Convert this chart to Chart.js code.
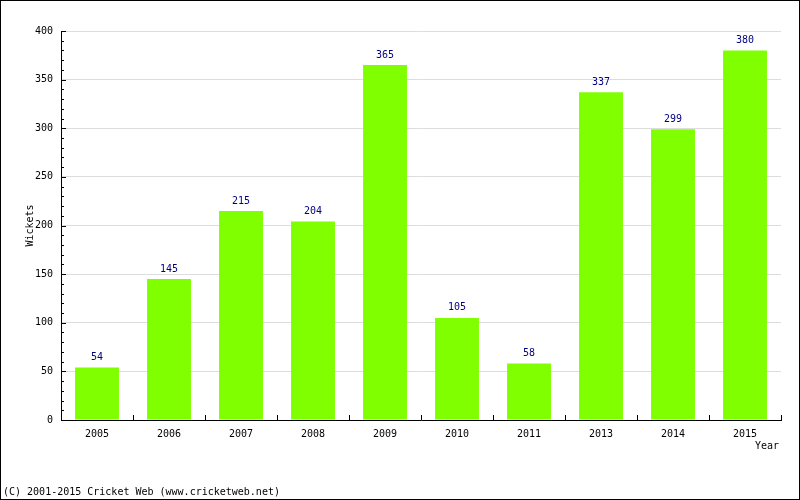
<!DOCTYPE html>
<html>
<head>
<meta charset="utf-8">
<script src="https://cdn.jsdelivr.net/npm/chart.js@4/dist/chart.umd.min.js"></script>
<style>
html,body{margin:0;padding:0;background:#fff;}
#c{display:block;}
</style>
</head>
<body>
<canvas id="c" width="800" height="500"></canvas>
<script>
const years = ['2005','2006','2007','2008','2009','2010','2011','2013','2014','2015'];
const wickets = [54,145,215,204,365,105,58,337,299,380];
const yTicks = [0,50,100,150,200,250,300,350,400];

const FONT = '"DejaVu Sans Mono", monospace';

const decor = {
  id: 'decor',
  afterDatasetsDraw(chart) {
    const ctx = chart.ctx;
    const meta = chart.getDatasetMeta(0);
    ctx.save();
    ctx.fillStyle = '#000080';
    ctx.font = '10px ' + FONT;
    ctx.textAlign = 'center';
    ctx.textBaseline = 'middle';
    meta.data.forEach((bar, i) => {
      ctx.fillText(String(wickets[i]), bar.x, bar.y - 10);
    });
    ctx.restore();
  },
  afterDraw(chart) {
    const ctx = chart.ctx;
    const ys = chart.scales.y, xs = chart.scales.x;
    const a = chart.chartArea;
    ctx.save();
    ctx.strokeStyle = '#000';
    ctx.lineWidth = 1;
    ctx.beginPath();
    // y ticks: major and minor, inward
    for (let v = ys.min; v <= ys.max; v += 10) {
      const py = Math.round(ys.getPixelForValue(v)) + 0.5;
      const len = (v % 50 === 0) ? 5 : 3;
      ctx.moveTo(a.left, py);
      ctx.lineTo(a.left + len, py);
    }
    // x ticks at category boundaries, upward
    const n = years.length;
    for (let i = 0; i <= n; i++) {
      const px = Math.round(xs.getPixelForValue(i - 0.5)) + 0.5;
      ctx.moveTo(px, a.bottom);
      ctx.lineTo(px, a.bottom - 5);
    }
    ctx.stroke();
    // outer border
    ctx.strokeRect(0.5, 0.5, 799, 499);
    // titles
    ctx.fillStyle = '#000';
    ctx.font = '10px ' + FONT;
    ctx.textBaseline = 'middle';
    ctx.textAlign = 'right';
    ctx.fillText('Year', 779, 446);
    ctx.textAlign = 'left';
    ctx.fillText('(C) 2001-2015 Cricket Web (www.cricketweb.net)', 3, 492);
    ctx.save();
    ctx.translate(30, (a.top + a.bottom) / 2);
    ctx.rotate(-Math.PI / 2);
    ctx.textAlign = 'center';
    ctx.fillText('Wickets', 0, 0);
    ctx.restore();
    ctx.restore();
  }
};

new Chart(document.getElementById('c'), {
  type: 'bar',
  data: {
    labels: years,
    datasets: [{
      data: wickets,
      backgroundColor: '#80ff00',
      borderWidth: 0,
      barPercentage: 0.61,
      categoryPercentage: 1.0
    }]
  },
  options: {
    responsive: false,
    animation: false,
    devicePixelRatio: 1,
    layout: { padding: { left: 0, right: 19, top: 31, bottom: 0 } },
    plugins: { legend: { display: false }, tooltip: { enabled: false } },
    scales: {
      x: {
        grid: { display: false, drawTicks: false },
        border: { display: true, color: '#000', width: 1 },
        ticks: { color: '#000', font: { family: FONT, size: 10 }, padding: 8, maxRotation: 0 },
        afterFit(s) { s.height = 80; }
      },
      y: {
        min: 0, max: 400,
        afterBuildTicks(s) { s.ticks = yTicks.map(v => ({ value: v })); },
        grid: { color: '#dddddd', drawTicks: false },
        border: { display: true, color: '#000', width: 1 },
        ticks: { color: '#000', font: { family: FONT, size: 10 }, padding: 8 },
        afterFit(s) { s.width = 61; }
      }
    }
  },
  plugins: [decor]
});
</script>
</body>
</html>
